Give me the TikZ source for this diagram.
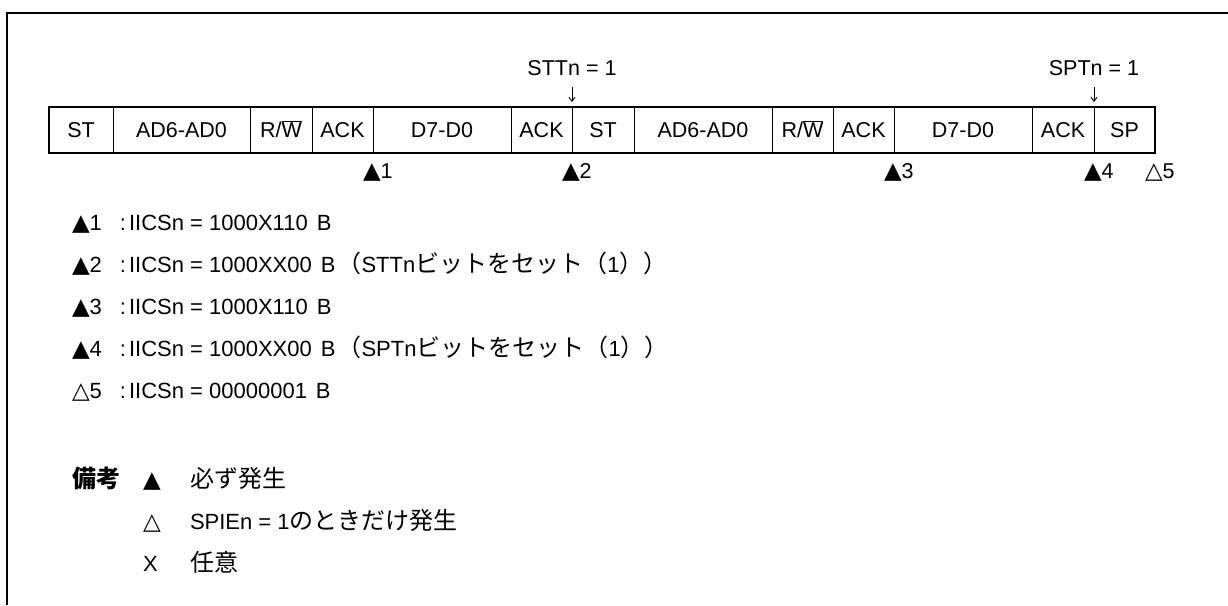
\documentclass[tikz,border=0pt]{standalone}
\usepackage{fontspec}
\setmainfont{Liberation Sans}
\newfontfamily\jpfont{Noto Sans CJK JP}
\newfontfamily\dvfont{DejaVu Sans}
\usetikzlibrary{arrows.meta}
\newcommand\jtxt[1]{{\jpfont\fontsize{24}{24}\selectfont #1}}
\newcommand\tribk{{\dvfont\fontsize{23}{23}\selectfont ▲}}
\newcommand\triwh{{\dvfont\fontsize{23}{23}\selectfont △}}
\newcommand\rwbar{R/\ensuremath{\overline{\mbox{W}}}}
\tikzset{
  x=1pt, y=-1pt,
  every node/.style={font=\fontsize{21.5}{24}\selectfont, inner sep=0pt, outer sep=0pt},
  cell/.style={draw, line width=1pt, minimum height=46pt, text height=15.5pt, text depth=0pt, anchor=center},
  frameline/.style={line width=2pt},
  barframe/.style={line width=2.2pt},
  note/.style={anchor=base west, font=\fontsize{22}{24}\selectfont},
  marker/.style={anchor=base west},
  toplabel/.style={anchor=base},
  arr/.style={line width=0.9pt, -{Straight Barb[length=4pt,width=6pt]}}
}
\begin{document}
\begin{tikzpicture}
\useasboundingbox (0,0) rectangle (1228,605);
% outer frame (left and top edges)
\draw[frameline] (7,605) -- (7,13) -- (1228,13);

% frame cells
\node[cell, minimum width=64pt]  (c1)  at (81,130)   {ST};
\node[cell, minimum width=137pt] (c2)  at (181.5,130) {AD6-AD0};
\node[cell, minimum width=62pt]  (c3)  at (281,130)  {\rwbar};
\node[cell, minimum width=61pt]  (c4)  at (342.5,130) {ACK};
\node[cell, minimum width=138pt] (c5)  at (442,130)  {D7-D0};
\node[cell, minimum width=61pt]  (c6)  at (541.5,130) {ACK};
\node[cell, minimum width=62pt]  (c7)  at (603,130)  {ST};
\node[cell, minimum width=138pt] (c8)  at (703,130)  {AD6-AD0};
\node[cell, minimum width=61pt]  (c9)  at (802.5,130) {\rwbar};
\node[cell, minimum width=61pt]  (c10) at (863.5,130) {ACK};
\node[cell, minimum width=138pt] (c11) at (963,130)  {D7-D0};
\node[cell, minimum width=62pt]  (c12) at (1063,130) {ACK};
\node[cell, minimum width=61pt]  (c13) at (1124.5,130) {SP};
\draw[barframe] (c1.north west) rectangle (c13.south east);

% top labels with arrows
\node[toplabel] (stt) at (572,75) {STTn = 1};
\coordinate (stta) at (572,87);
\coordinate (sttb) at (572,102);
\draw[arr] (stta) -- (sttb);
\node[toplabel] (spt) at (1094,75) {SPTn = 1};
\coordinate (spta) at (1094,87);
\coordinate (sptb) at (1094,102);
\draw[arr] (spta) -- (sptb);

% markers below the frame
\node[marker] (m1) at (363,178)  {\tribk 1};
\node[marker] (m2) at (562,178)  {\tribk 2};
\node[marker] (m3) at (884,178)  {\tribk 3};
\node[marker] (m4) at (1084,178) {\tribk 4};
\node[marker] (m5) at (1145,178) {\triwh 5};

% notes
\node[note] (n1) at (72,230) {\tribk 1\hspace{18pt}:\hspace{3pt}IICSn = 1000X110\hspace{9pt}B};
\node[note] (n2) at (72,272) {\tribk 2\hspace{18pt}:\hspace{3pt}IICSn = 1000XX00\hspace{9pt}B\hspace{2pt}\jtxt{（}STTn\jtxt{ビットをセット（}1\jtxt{））}};
\node[note] (n3) at (72,314) {\tribk 3\hspace{18pt}:\hspace{3pt}IICSn = 1000X110\hspace{9pt}B};
\node[note] (n4) at (72,356) {\tribk 4\hspace{18pt}:\hspace{3pt}IICSn = 1000XX00\hspace{9pt}B\hspace{2pt}\jtxt{（}SPTn\jtxt{ビットをセット（}1\jtxt{））}};
\node[note] (n5) at (72,398) {\triwh 5\hspace{18pt}:\hspace{3pt}IICSn = 00000001\hspace{9pt}B};

% remarks
\node[note] (r0)  at (72,487)  {\jtxt{\bfseries 備考}};
\node[note] (r1s) at (143,487) {\tribk};
\node[note] (r1t) at (190,487) {\jtxt{必ず発生}};
\node[note] (r2s) at (143,529) {\triwh};
\node[note] (r2t) at (190,529) {SPIEn = 1\jtxt{のときだけ発生}};
\node[note] (r3s) at (143,571) {X};
\node[note] (r3t) at (190,571) {\jtxt{任意}};
\end{tikzpicture}
\end{document}
